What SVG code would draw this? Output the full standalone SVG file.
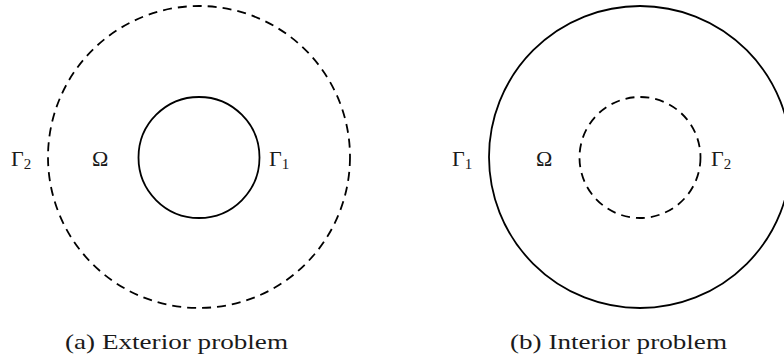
<svg xmlns="http://www.w3.org/2000/svg" width="784" height="358" viewBox="0 0 784 358">
<style>
.solid{fill:none;stroke:#000;stroke-width:1.8}
.dash{fill:none;stroke:#000;stroke-width:1.8;stroke-dasharray:9 6}
.t{font-family:"Liberation Serif","DejaVu Serif",serif;font-size:22px;fill:#1a1a1a}
.s{font-size:15px}
</style>
<rect width="784" height="358" fill="#fff"/>
<g id="exterior">
<g id="outer-a"><circle class="dash" cx="199" cy="157" r="151"/></g>
<g id="inner-a"><circle class="solid" cx="199" cy="157.5" r="60.5"/></g>
<text class="t" x="11" y="166">Γ<tspan class="s" dy="3">2</tspan></text>
<text class="t" x="92" y="166">Ω</text>
<text class="t" x="269" y="166">Γ<tspan class="s" dy="3">1</tspan></text>
<text class="t" x="65" y="349" textLength="223" lengthAdjust="spacingAndGlyphs">(a) Exterior problem</text>
</g>
<g id="interior">
<g id="outer-b"><circle class="solid" cx="640" cy="157" r="151"/></g>
<g id="inner-b"><circle class="dash" cx="640" cy="157.5" r="60.5"/></g>
<text class="t" x="452" y="166">Γ<tspan class="s" dy="3">1</tspan></text>
<text class="t" x="536" y="166">Ω</text>
<text class="t" x="711" y="166">Γ<tspan class="s" dy="3">2</tspan></text>
<text class="t" x="510" y="349" textLength="217" lengthAdjust="spacingAndGlyphs">(b) Interior problem</text>
</g>
</svg>
